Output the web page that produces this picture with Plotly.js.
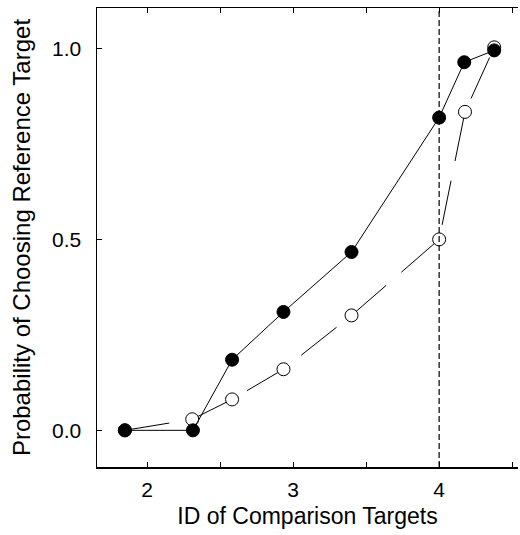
<!DOCTYPE html>
<html>
<head>
<meta charset="utf-8">
<script src="https://cdn.plot.ly/plotly-3.0.1.min.js"></script>
<style>html,body{margin:0;padding:0;background:#fff;}#chart{width:520px;height:535px;}</style>
</head>
<body>
<div id="chart"></div>
<script>
// Filled circles (solid line)
var filledX = [1.848, 2.314, 2.582, 2.934, 3.400, 4.000, 4.172, 4.377];
var filledY = [0.000, 0.000, 0.185, 0.310, 0.467, 0.819, 0.964, 0.995];
// Open circles (dashed line)
var openX = [1.848, 2.309, 2.582, 2.934, 3.400, 4.000, 4.177, 4.377];
var openY = [0.000, 0.029, 0.081, 0.160, 0.301, 0.500, 0.834, 1.003];
// Reference line position
var refX = 4;
var xTickVals = [2, 2.5, 3, 3.5, 4, 4.5];
var xTickText = ['2', '', '3', '', '4', ''];
var yTickVals = [0, 0.5, 1];
var yTickText = ['0.0', '0.5', '1.0'];

var traces = [
  {
    x: openX, y: openY, type: 'scatter', mode: 'lines+markers',
    line: {color: '#000', width: 1, dash: '45px,20px'},
    marker: {symbol: 'circle', size: 13, color: '#fff', line: {color: '#000', width: 1}},
    showlegend: false, hoverinfo: 'skip'
  },
  {
    x: filledX, y: filledY, type: 'scatter', mode: 'lines+markers',
    line: {color: '#000', width: 1},
    marker: {symbol: 'circle', size: 13, color: '#000', line: {color: '#000', width: 1}},
    showlegend: false, hoverinfo: 'skip'
  }
];

var font = {family: 'Liberation Sans, Arial, sans-serif', color: '#000'};
var layout = {
  width: 520, height: 535,
  margin: {l: 97, r: 2, t: 8, b: 68},
  paper_bgcolor: '#fff', plot_bgcolor: '#fff',
  font: font,
  showlegend: false,
  xaxis: {
    range: [1.657, 4.54],
    tickvals: xTickVals, ticktext: xTickText,
    ticks: 'inside', ticklen: 5, tickwidth: 1, tickcolor: '#000',
    showline: true, linecolor: '#000', linewidth: 1.5, mirror: 'ticks',
    showgrid: false, zeroline: false,
    tickfont: {family: font.family, size: 21, color: '#000'},
    ticklabelstandoff: 3,
    title: {text: 'ID of Comparison Targets', font: {family: font.family, size: 23, color: '#000'}, standoff: 8},
    automargin: false
  },
  yaxis: {
    range: [-0.096, 1.106],
    tickvals: yTickVals, ticktext: yTickText,
    ticks: 'inside', ticklen: 5, tickwidth: 1, tickcolor: '#000',
    showline: true, linecolor: '#000', linewidth: 1.5, mirror: false,
    showgrid: false, zeroline: false,
    tickfont: {family: font.family, size: 21, color: '#000'},
    ticklabelstandoff: 10,
    title: {text: 'Probability of Choosing Reference Target', font: {family: font.family, size: 24, color: '#000'}, standoff: 14},
    automargin: false
  },
  shapes: [
    {type: 'line', xref: 'x', yref: 'paper', x0: refX, x1: refX, y0: 0, y1: 1,
     line: {color: '#000', width: 1.2, dash: '6px,3px'}}
  ]
};
Plotly.newPlot('chart', traces, layout, {staticPlot: true, displayModeBar: false});
</script>
</body>
</html>
